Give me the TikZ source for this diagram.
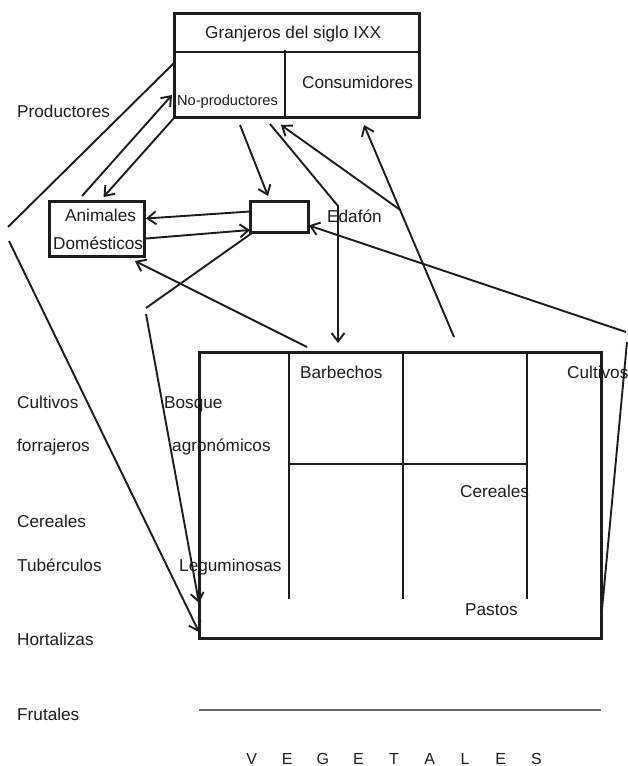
\documentclass[tikz,border=0pt]{standalone}
\usepackage{fontspec}
\setmainfont{Liberation Sans}
\usetikzlibrary{arrows.meta,calc}
\definecolor{ink}{RGB}{30,27,28}
\definecolor{rule}{RGB}{100,100,100}
\newcommand{\spreadletter}[1]{\makebox[35.6pt]{#1}}
\begin{document}
\begin{tikzpicture}[x=1pt,y=-1pt,
  box/.style={draw=ink,line width=3pt,outer sep=0pt,inner sep=0pt,rectangle},
  divider/.style={draw=ink,line width=2.2pt},
  link/.style={draw=ink,line width=1.9pt},
  arrow/.style={link,-{Straight Barb[length=8.5pt,width=13pt]}},
  lbl/.style={anchor=base west,inner sep=0pt,text=ink,font=\fontsize{17.2}{20}\selectfont},
  smalllbl/.style={lbl,font=\fontsize{14.6}{17}\selectfont}
]
\useasboundingbox (0,0) rectangle (628,766);

% ---- boxes ----
\node[box,minimum width=245pt,minimum height=104pt] (farm) at (296.5,65) {};
\node[box,minimum width=95pt,minimum height=55pt] (animals) at (96.5,228.5) {};
\node[box,minimum width=58pt,minimum height=31pt] (soil) at (279,216.5) {};
\node[box,minimum width=402pt,minimum height=286pt] (field) at (400,495) {};

% farmers box partitions
\draw[divider] (farm.west |- 0,52) -- (farm.east |- 0,52);
\draw[divider] (285,50) -- (285,116);

% field partitions
\draw[divider] (289,352) -- (289,599);
\draw[divider] (403,352) -- (403,599);
\draw[divider] (527,352) -- (527,599);
\draw[divider] (289,464) -- (527,464);

% ground line
\draw[draw=rule,line width=1.6pt] (field.south west |- 0,710) -- (field.south east |- 0,710);

% ---- labels ----
\node[lbl] (tfarm) at (205,38) {Granjeros del siglo IXX};
\node[lbl] (tcons) at (302,88) {Consumidores};
\node[smalllbl] (tnonprod) at (177,105) {No-productores};
\node[lbl] (tprod) at (17,117) {Productores};
\node[lbl] (tanim) at (65,221.5) {Animales};
\node[lbl] (tdom) at (53,249) {Domésticos};
\node[lbl] (tedaf) at (327,222) {Edafón};
\node[lbl] (tbarb) at (300,378) {Barbechos};
\node[lbl] (tcultr) at (567,378) {Cultivos};
\node[lbl] (tcultl) at (17,408) {Cultivos};
\node[lbl] (tbosq) at (164,408) {Bosque};
\node[lbl] (tforr) at (17,451) {forrajeros};
\node[lbl] (tagro) at (172,451) {agronómicos};
\node[lbl] (tcerin) at (460,497) {Cereales};
\node[lbl] (tcerl) at (17,527) {Cereales};
\node[lbl] (ttub) at (17,571) {Tubérculos};
\node[lbl] (tleg) at (179,571) {Leguminosas};
\node[lbl] (tpast) at (465,615) {Pastos};
\node[lbl] (thort) at (17,645) {Hortalizas};
\node[lbl] (tfrut) at (17,720) {Frutales};
\node[anchor=base,inner sep=0pt,text=ink,font=\fontsize{16}{19}\selectfont] (tveg) at (394,764)
  {\spreadletter{V}\spreadletter{E}\spreadletter{G}\spreadletter{E}\spreadletter{T}\spreadletter{A}\spreadletter{L}\spreadletter{E}\spreadletter{S}};

% ---- free ends ----
\coordinate (lefttop) at (8,227);
\coordinate (leftlow) at (9,241);
\coordinate (midtop) at (146,308);
\coordinate (midlow) at (146,314);
\coordinate (righttop) at (626,332);
\coordinate (rightlow) at (627,342);
\coordinate (fieldF) at (454,337);
\coordinate (bend) at (338,206);

% ---- connectors ----
% outer brackets
\draw[link] ($(farm.west)+(0,-2)$) -- (lefttop);
\draw[arrow] (leftlow) -- ($(field.south west)+(0,-6)$);
\draw[link] ($(soil.south west)+(2,1)$) -- (midtop);
\draw[arrow] (midlow) -- ($(field.south west)+(0,-35)$);
\draw[arrow] (righttop) -- ($(soil.east)+(1,9)$);
\draw[link] (rightlow) -- ($(field.south east)+(0,-18)$);

% field to farmers
\coordinate (consEnd) at ($(farm.south)+(67.5,8)$);
\draw[arrow] (fieldF) -- (consEnd);
\draw[arrow] ($(fieldF)!0.6!(consEnd)$) -- ($(farm.south)+(-15.5,8)$);

% farmers down to field and soil
\draw[arrow] ($(farm.south)+(-26.5,7)$) -- (bend) -- ($(field.north)+(-62,-9)$);
\draw[arrow] ($(farm.south)+(-56.5,8)$) -- ($(soil.north)+(-11,-5)$);

% soil and animals exchange
\draw[arrow] ($(soil.west)+(0,-5)$) -- ($(animals.east)+(2,-10)$);
\draw[arrow] ($(animals.east)+(2,10)$) -- ($(soil.south west)+(0,-2)$);
\draw[arrow] ($(field.north west)+(108,-5)$) -- ($(animals.south east)+(-9,5)$);

% animals and farmers
\draw[arrow] ($(animals.north)+(-14.5,-5)$) -- ($(farm.south west)+(-2,-22)$);
\draw[arrow] ($(farm.south west)+(0,1)$) -- ($(animals.north)+(7,-4)$);
\end{tikzpicture}
\end{document}
